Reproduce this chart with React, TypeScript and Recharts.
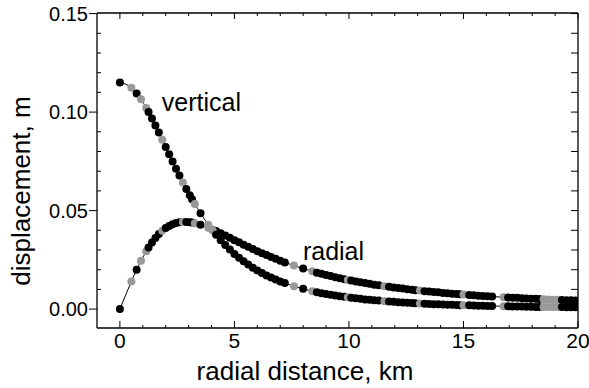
import React from 'react';
import { ComposedChart, Line, XAxis, YAxis, ReferenceDot } from 'recharts';

// station distances (km) and which marker shade each one has
const stationDistance = [
  0, 0.5, 0.73, 0.92, 1.15, 1.25, 1.4, 1.55, 1.7, 1.85, 2.0, 2.15, 2.3, 2.45, 2.6, 2.75, 2.9, 3.05, 3.15, 3.27,
  3.52, 3.86, 4.05, 4.2, 4.4, 4.6, 4.8, 5.0, 5.2, 5.4, 5.6, 5.8, 6.0, 6.2, 6.4, 6.6, 6.8, 7.0, 7.2, 7.6,
  8.0, 8.4, 8.6, 8.8, 9.0, 9.2, 9.4, 9.6, 9.8, 9.95, 10.1, 10.3, 10.5, 10.7, 10.9, 11.1, 11.3, 11.55, 11.75, 11.95,
  12.15, 12.35, 12.55, 12.75, 12.9, 13.1, 13.3, 13.5, 13.7, 13.9, 14.1, 14.3, 14.5, 14.7, 14.85, 15.0, 15.25, 15.45, 15.65, 15.85,
  16.05, 16.25, 16.75, 16.95, 17.15, 17.35, 17.55, 17.75, 17.95, 18.15, 18.3, 18.5, 18.7, 18.9, 19.1, 19.3, 19.5, 19.7, 19.9,
];
const stationShade = [
  'k', 'g', 'k', 'g', 'g', 'k', 'k', 'k', 'k', 'g', 'k', 'k', 'k', 'k', 'k', 'g', 'k', 'k', 'k', 'g',
  'k', 'g', 'g', 'k', 'k', 'k', 'k', 'k', 'k', 'k', 'k', 'k', 'k', 'k', 'k', 'k', 'k', 'k', 'k', 'g',
  'k', 'g', 'k', 'k', 'k', 'k', 'k', 'k', 'k', 'g', 'k', 'k', 'k', 'k', 'k', 'k', 'k', 'g', 'k', 'k',
  'k', 'k', 'k', 'k', 'k', 'g', 'k', 'k', 'k', 'k', 'k', 'k', 'k', 'k', 'k', 'g', 'k', 'k', 'k', 'k',
  'k', 'k', 'g', 'k', 'k', 'k', 'k', 'k', 'k', 'k', 'k', 'g', 'g', 'g', 'g', 'k', 'k', 'k', 'k',
];
const verticalDisp = [
  0.115, 0.1124, 0.1095, 0.1065, 0.1021, 0.1, 0.0967, 0.0932, 0.0896, 0.086, 0.0823, 0.0786, 0.0749, 0.0713, 0.0678, 0.0643, 0.061, 0.0578, 0.0558, 0.0534,
  0.0487, 0.0428, 0.0399, 0.0377, 0.035, 0.0325, 0.0302, 0.028, 0.0261, 0.0243, 0.0226, 0.021, 0.0196, 0.0183, 0.0171, 0.016, 0.015, 0.014, 0.0132, 0.0116,
  0.0103, 0.0091, 0.0086, 0.0081, 0.0077, 0.0073, 0.0069, 0.0065, 0.0062, 0.006, 0.0057, 0.0055, 0.0052, 0.0049, 0.0047, 0.0045, 0.0043, 0.004, 0.0038, 0.0037,
  0.0035, 0.0034, 0.0032, 0.0031, 0.003, 0.0029, 0.0027, 0.0026, 0.0025, 0.0024, 0.0023, 0.0022, 0.0022, 0.0021, 0.002, 0.002, 0.0019, 0.0018, 0.0017, 0.0017,
  0.0016, 0.0016, 0.0014, 0.0014, 0.0013, 0.0013, 0.0013, 0.0012, 0.0012, 0.0011, 0.0011, 0.0011, 0.0011, 0.001, 0.001, 0.001, 0.0009, 0.0009, 0.0009,
];
const radialDisp = [
  0, 0.014, 0.02, 0.0245, 0.0293, 0.0313, 0.0338, 0.0361, 0.0381, 0.0398, 0.0411, 0.0422, 0.0431, 0.0437, 0.0441, 0.0442, 0.0442, 0.0441, 0.0439, 0.0436,
  0.0428, 0.0413, 0.0404, 0.0396, 0.0385, 0.0374, 0.0362, 0.035, 0.0339, 0.0327, 0.0316, 0.0305, 0.0294, 0.0284, 0.0274, 0.0264, 0.0255, 0.0246, 0.0237, 0.0221,
  0.0206, 0.0192, 0.0185, 0.0179, 0.0173, 0.0168, 0.0162, 0.0157, 0.0152, 0.0148, 0.0145, 0.014, 0.0136, 0.0132, 0.0128, 0.0124, 0.0121, 0.0116, 0.0113, 0.011,
  0.0107, 0.0104, 0.0101, 0.0098, 0.0096, 0.0094, 0.0091, 0.0089, 0.0087, 0.0085, 0.0082, 0.008, 0.0078, 0.0076, 0.0075, 0.0074, 0.0072, 0.007, 0.0068, 0.0067,
  0.0065, 0.0064, 0.006, 0.0059, 0.0058, 0.0057, 0.0055, 0.0054, 0.0053, 0.0052, 0.0051, 0.005, 0.0049, 0.0048, 0.0047, 0.0046, 0.0045, 0.0045, 0.0044,
];

const xTickLabels = [0, 5, 10, 15, 20];
const xMinorTicks = [1, 2, 3, 4, 6, 7, 8, 9, 11, 12, 13, 14, 16, 17, 18, 19];
const yTickLabels = [0, 0.05, 0.1, 0.15];
const yMinorTicks = [0.01, 0.02, 0.03, 0.04, 0.06, 0.07, 0.08, 0.09, 0.11, 0.12, 0.13, 0.14];

const FONT = '"Liberation Sans", Arial, Helvetica, sans-serif';
const GRAY = '#999999';

const rows = stationDistance.map((r, i) => ({
  r,
  vertical: verticalDisp[i],
  radial: radialDisp[i],
  shade: stationShade[i],
}));

const xTicks = [...xMinorTicks, ...xTickLabels];
const yTicks = [...yMinorTicks, ...yTickLabels];

const renderDot = (props: any) => {
  const { cx, cy, payload, index } = props;
  if (cx == null || cy == null) return <g key={index} />;
  return <circle key={index} cx={cx} cy={cy} r={4} fill={payload.shade === 'g' ? GRAY : '#000'} stroke="none" />;
};

const BottomTick = (props: any) => {
  const { x, y, payload } = props;
  const major = xTickLabels.includes(payload.value);
  return (
    <g>
      <line x1={x} x2={x} y1={y} y2={y - (major ? 7 : 3)} stroke="#000" strokeWidth={1} />
      {major && (
        <text x={x} y={y + 20} textAnchor="middle" fontSize={21} fontFamily={FONT} fill="#000">
          {payload.value}
        </text>
      )}
    </g>
  );
};

const TopTick = (props: any) => {
  const { x, y, payload } = props;
  const major = xTickLabels.includes(payload.value);
  return <line x1={x} x2={x} y1={y} y2={y + (major ? 6 : 3)} stroke="#000" strokeWidth={1} />;
};

const LeftTick = (props: any) => {
  const { x, y, payload } = props;
  const major = yTickLabels.includes(payload.value);
  return (
    <g>
      {major ? (
        <line x1={x - 8} x2={x} y1={y} y2={y} stroke="#000" strokeWidth={1} />
      ) : (
        <line x1={x} x2={x + 4} y1={y} y2={y} stroke="#000" strokeWidth={1} />
      )}
      {major && (
        <text x={x - 9} y={y + 7} textAnchor="end" fontSize={20} fontFamily={FONT} fill="#000">
          {payload.value.toFixed(2)}
        </text>
      )}
    </g>
  );
};

const RightTick = (props: any) => {
  const { x, y } = props;
  return <line x1={x - 7} x2={x} y1={y} y2={y} stroke="#000" strokeWidth={1} />;
};

const axisLine = { stroke: '#000', strokeWidth: 1.3 };

export default function App() {
  return (
    <div style={{ position: 'absolute', left: 0, top: 0, width: 589, height: 388, background: '#fff' }}>
      <ComposedChart width={589} height={388} data={rows} margin={{ top: 12, right: 10, bottom: 0, left: 0 }}>
        <XAxis
          dataKey="r"
          type="number"
          domain={[-1, 20]}
          allowDataOverflow
          ticks={xTicks}
          interval={0}
          tickSize={0}
          tickMargin={0}
          tickLine={false}
          axisLine={axisLine}
          tick={BottomTick}
          height={60}
          label={{
            content: () => (
              <text x={305} y={380} textAnchor="middle" fontSize={26} fontFamily={FONT} fill="#000">
                radial distance, km
              </text>
            ),
          }}
        />
        <XAxis
          xAxisId="top"
          dataKey="r"
          orientation="top"
          type="number"
          domain={[-1, 20]}
          allowDataOverflow
          ticks={xTicks}
          interval={0}
          tickSize={0}
          tickMargin={0}
          tickLine={false}
          axisLine={axisLine}
          tick={TopTick}
          height={1}
        />
        <YAxis
          type="number"
          domain={[-0.0096, 0.1503]}
          allowDataOverflow
          ticks={yTicks}
          interval={0}
          tickSize={0}
          tickMargin={0}
          tickLine={false}
          axisLine={axisLine}
          tick={LeftTick}
          width={97}
          label={{
            content: () => (
              <text
                x={30}
                y={191}
                transform="rotate(-90, 30, 191)"
                textAnchor="middle"
                fontSize={26}
                fontFamily={FONT}
                fill="#000"
              >
                displacement, m
              </text>
            ),
          }}
        />
        <YAxis
          yAxisId="right"
          orientation="right"
          type="number"
          domain={[-0.0096, 0.1503]}
          allowDataOverflow
          ticks={yTicks}
          interval={0}
          tickSize={0}
          tickMargin={0}
          tickLine={false}
          axisLine={axisLine}
          tick={RightTick}
          width={1}
        />
        {/* hidden copy so the top/right frame axes have a series bound to them */}
        <Line
          xAxisId="top"
          yAxisId="right"
          dataKey="radial"
          stroke="none"
          dot={false}
          activeDot={false}
          legendType="none"
          isAnimationActive={false}
        />
        <Line
          dataKey="radial"
          type="monotone"
          stroke="#000"
          strokeWidth={1}
          dot={renderDot}
          activeDot={false}
          isAnimationActive={false}
        />
        <Line
          dataKey="vertical"
          type="monotone"
          stroke="#000"
          strokeWidth={1}
          dot={renderDot}
          activeDot={false}
          isAnimationActive={false}
        />
        <ReferenceDot
          x={1.83}
          y={0.1005}
          r={0}
          fill="none"
          stroke="none"
          label={(p: any) => (
            <text x={p.viewBox.x} y={p.viewBox.y} fontSize={25} fontFamily={FONT} fill="#000">
              vertical
            </text>
          )}
        />
        <ReferenceDot
          x={7.99}
          y={0.0249}
          r={0}
          fill="none"
          stroke="none"
          label={(p: any) => (
            <text x={p.viewBox.x} y={p.viewBox.y} fontSize={25} fontFamily={FONT} fill="#000">
              radial
            </text>
          )}
        />
      </ComposedChart>
    </div>
  );
}
